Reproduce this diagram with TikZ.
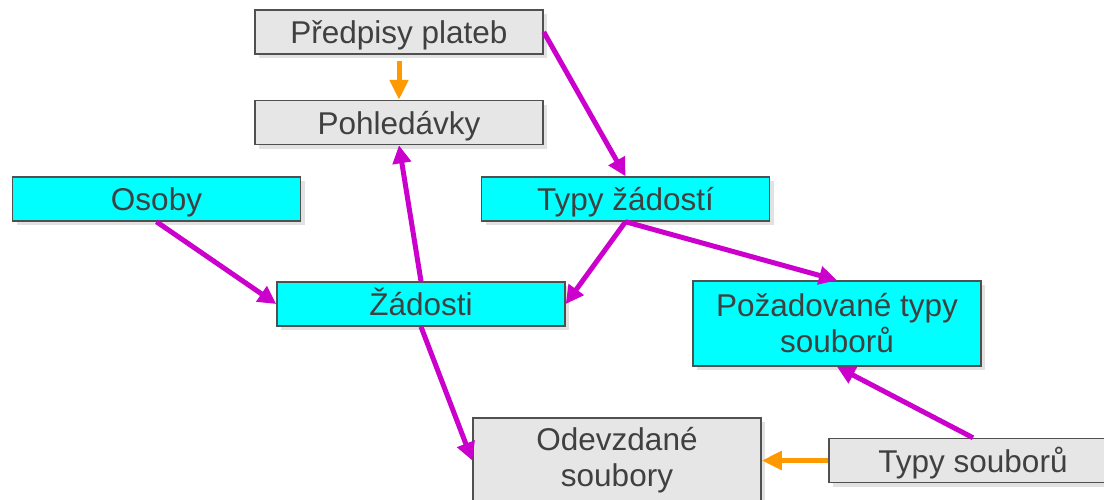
\documentclass[tikz,border=0pt]{standalone}
\usepackage{fontspec}
\setmainfont{Liberation Sans}
\usetikzlibrary{arrows.meta,shadows}
\definecolor{boxgray}{HTML}{E6E6E6}
\definecolor{boxcyan}{HTML}{00FFFF}
\definecolor{edgegray}{HTML}{505050}
\definecolor{txtgray}{HTML}{404040}
\definecolor{mag}{HTML}{CC00CC}
\definecolor{org}{HTML}{FF9900}
\definecolor{shad}{HTML}{E2E2E2}
\begin{document}
\begin{tikzpicture}[x=1pt,y=-1pt,
 entity/.style={rectangle, draw=edgegray, line width=1.5pt, minimum width=288pt, minimum height=44pt, inner sep=0pt, text=txtgray, font=\fontsize{31.5}{36}\selectfont, align=center, drop shadow={shadow xshift=4pt, shadow yshift=-4pt, fill=shad, opacity=1}},
 one/.style={text height=26pt, text depth=3pt},
 two/.style={minimum height=85pt},
 graybox/.style={entity, fill=boxgray},
 cyanbox/.style={entity, fill=boxcyan},
 rel/.style={draw=mag, line width=5pt, -{Triangle[length=18pt,width=18pt]}},
 dep/.style={draw=org, line width=5pt, -{Triangle[length=20pt,width=18pt]}}]
\useasboundingbox (0,0) rectangle (1104,499);
\clip (0,0) rectangle (1104,499);
\node[graybox,one] (pred) at (399,32) {Předpisy plateb};
\node[graybox,one] (pohl) at (399,122.5) {Pohledávky};
\node[cyanbox,one] (osoby) at (156.5,199) {Osoby};
\node[cyanbox,one] (typyz) at (625.5,199) {Typy žádostí};
\node[cyanbox,one] (zad) at (421,304) {Žádosti};
\node[cyanbox,two] (pozad) at (837,323.5) {Požadované typy\\souborů};
\node[graybox,two] (odev) at (617,460.5) {Odevzdané\\soubory};
\node[graybox,one] (typys) at (973,460.5) {Typy souborů};
\draw[dep, shorten <=6pt] (pred) -- (pohl);
\draw[rel] (pred.east) -- (typyz.north);
\draw[rel] (zad.north) -- (pohl.south);
\draw[rel] (osoby.south) -- (zad.west);
\draw[rel] (typyz.south) -- (zad.east);
\draw[rel] (typyz.south) -- (pozad.north);
\draw[rel] (zad.south) -- (odev.west);
\draw[rel] (typys.north) -- (pozad.south);
\draw[dep] (typys.west) -- (odev.east);
\end{tikzpicture}
\end{document}
